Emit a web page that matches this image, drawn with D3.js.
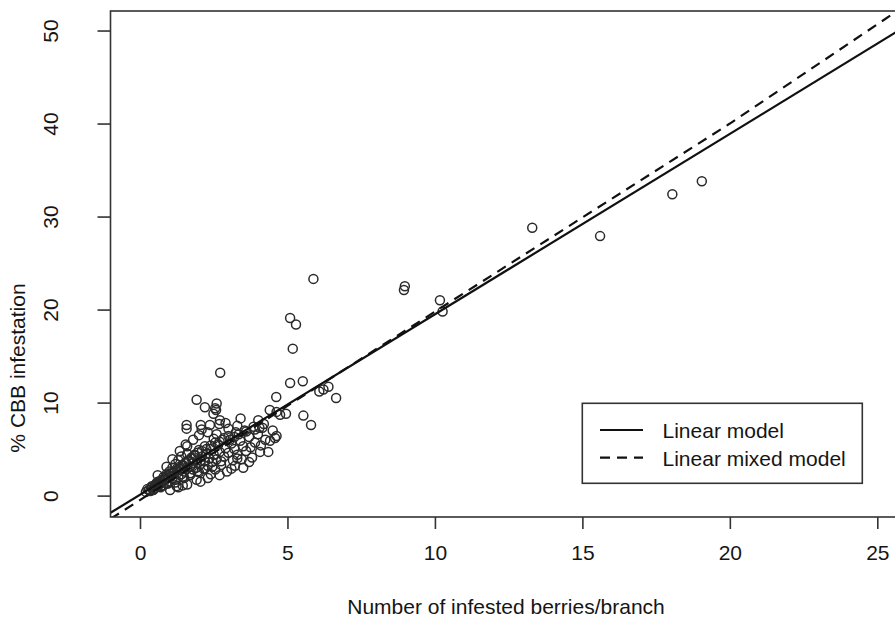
<!DOCTYPE html>
<html>
<head>
<meta charset="utf-8">
<script src="https://cdn.jsdelivr.net/npm/d3@7"></script>
<style>
  html, body { margin: 0; padding: 0; background: #fff; }
  svg { display: block; }
  text { font-family: "Liberation Sans", Arial, sans-serif; fill: #151515; }
</style>
</head>
<body>
<svg id="chart" width="895" height="622"></svg>
<script>
// ---- data ----
const xTicks = [0, 5, 10, 15, 20, 25];
const yTicks = [0, 10, 20, 30, 40, 50];
const xLabel = "Number of infested berries/branch";
const yLabel = "% CBB infestation";
const legendLabels = ["Linear model", "Linear mixed model"];

// observed points: infested berries per branch (x) and % infestation (y)
const pointsX = [
  13.3, 15.6, 18.05, 19.05, 8.95, 8.98, 10.17, 10.26, 5.88, 5.09, 5.29, 5.18, 5.09, 5.52, 6.08, 6.22, 6.39, 6.65, 4.62, 2.72,
  1.92, 2.2, 2.55, 2.6, 2.58, 2.49, 3.41, 4.01, 4.05, 1.58, 1.58, 2.06, 2.09, 2.37, 2.69, 2.71, 4.63, 4.75, 4.95, 5.54, 5.8,
  4.58, 4.41, 4.63, 4.07, 4.35, 3.22, 1.6, 1.92, 1.24, 1.02,
  0.2, 0.3, 0.35, 0.4, 0.45, 0.5, 0.5, 0.55, 0.6, 0.6, 0.65, 0.7, 0.7, 0.75, 0.8, 0.8, 0.85, 0.9, 0.9, 0.95,
  1.0, 1.0, 1.05, 1.1, 1.1, 1.15, 1.2, 1.2, 1.25, 1.3, 1.3, 1.35, 1.4, 1.4, 1.45, 1.5, 1.5, 1.55, 1.6, 1.6,
  1.65, 1.7, 1.7, 1.75, 1.8, 1.8, 1.85, 1.9, 1.95, 2.0, 2.0, 2.05, 2.1, 2.15, 2.2, 2.2, 2.25, 2.3, 2.35, 2.4,
  2.45, 2.5, 2.5, 2.55, 2.6, 2.65, 2.7, 2.75, 2.8, 2.85, 2.9, 2.95, 3.0, 3.0, 3.1, 3.15, 3.2, 3.25, 3.3, 3.4,
  3.45, 3.5, 3.55, 3.6, 3.7, 3.75, 3.8, 3.85, 3.9, 4.0, 4.1, 4.2, 4.25, 4.4, 4.5,
  1.3, 1.6, 2.3, 2.7, 3.5, 0.6, 0.9, 1.1, 1.35, 1.55, 1.8, 2.0, 2.3, 2.6, 3.0, 3.3, 2.9, 2.4, 3.1, 3.7, 2.05, 1.45,
  0.25, 0.4, 0.55, 0.65, 0.75, 0.85, 0.95, 1.05, 1.15, 1.25, 1.35, 1.45, 1.55, 1.65, 1.75, 1.85, 1.95, 2.1, 2.25, 2.4,
  2.55, 2.7, 2.85, 3.05, 3.2, 3.35, 3.6, 3.9, 4.15, 0.45, 0.7, 0.95, 1.2, 1.45, 1.7, 1.95, 2.2, 2.45, 2.75, 3.3
];
const pointsY = [
  28.8, 27.9, 32.4, 33.8, 22.1, 22.5, 21.0, 19.8, 23.3, 19.1, 18.4, 15.8, 12.1, 12.3, 11.2, 11.4, 11.7, 10.5, 10.6, 13.2,
  10.3, 9.5, 9.4, 9.9, 9.2, 8.8, 8.3, 8.1, 7.3, 7.6, 7.2, 7.6, 7.1, 7.6, 7.7, 8.1, 9.0, 8.7, 8.8, 8.6, 7.6,
  6.2, 5.9, 6.4, 4.7, 4.7, 3.2, 5.3, 1.7, 1.0, 0.6,
  0.4, 0.6, 0.5, 0.9, 0.7, 1.1, 0.8, 1.3, 1.0, 1.5, 1.2, 1.6, 0.9, 1.4, 2.0, 1.1, 1.7, 2.3, 1.3, 1.9,
  2.6, 1.5, 2.1, 3.0, 1.8, 2.4, 3.4, 1.4, 2.7, 2.0, 3.8, 2.9, 2.3, 4.2, 3.2, 2.6, 1.9, 3.5, 2.9, 4.5,
  3.7, 2.4, 3.1, 4.0, 2.8, 3.5, 4.4, 3.0, 3.8, 2.5, 4.9, 3.4, 4.2, 2.9, 3.7, 5.3, 4.5, 3.2, 4.0, 5.0,
  3.6, 4.4, 6.1, 2.8, 3.9, 5.5, 4.7, 3.3, 6.0, 4.2, 5.1, 2.6, 4.6, 6.4, 5.6, 3.8, 5.0, 6.8, 4.4, 5.9,
  3.9, 5.3, 7.0, 4.8, 6.3, 5.2, 4.1, 7.4, 5.7, 6.6, 5.4, 7.7, 6.0, 9.2, 7.0,
  0.9, 1.2, 1.9, 2.2, 3.0, 2.2, 3.1, 3.9, 4.8, 5.5, 6.0, 6.5, 6.8, 6.6, 7.2, 7.5, 7.8, 2.3, 2.9, 3.6, 1.5, 1.1,
  0.7, 1.0, 1.2, 1.4, 1.7, 1.9, 2.2, 2.4, 2.6, 2.9, 3.1, 3.3, 3.6, 3.8, 4.1, 4.3, 4.6, 4.8, 5.0, 5.4,
  5.7, 5.8, 6.2, 6.0, 6.3, 6.6, 6.9, 7.1, 7.3, 0.6, 1.0, 1.3, 1.7, 2.0, 2.2, 2.6, 2.9, 3.1, 3.7, 4.0
];

// fitted model lines
const linearX = [-1, 26];
const linearY = [-1.85, 50.53];
const mixedX = [-1, 7, 15, 20, 26];
const mixedY = [-2.5, 13.7, 29.9, 40.0, 52.8];

// ---- layout ----
const svg = d3.select("#chart");
const pLeft = 110.5, pTop = 11, pRight = 906.8, pBottom = 517;
const x = d3.scaleLinear().domain([-1, 26]).range([pLeft, pRight]);
const y = d3.scaleLinear().domain([-2.3, 52.1]).range([pBottom, pTop]);

svg.append("defs").append("clipPath").attr("id", "plotclip")
  .append("rect").attr("x", pLeft).attr("y", pTop).attr("width", pRight - pLeft).attr("height", pBottom - pTop);

// points
const pts = d3.range(pointsX.length).map(i => ({x: pointsX[i], y: pointsY[i]}));
svg.append("g").selectAll("circle").data(pts).join("circle")
  .attr("cx", d => x(d.x)).attr("cy", d => y(d.y)).attr("r", 4.5)
  .attr("fill", "none").attr("stroke", "#2a2a2a").attr("stroke-width", 1.5);

// lines
const lineGen = d3.line().x(d => x(d[0])).y(d => y(d[1]));
const gl = svg.append("g").attr("clip-path", "url(#plotclip)");
gl.append("path").attr("d", lineGen(d3.zip(linearX, linearY)))
  .attr("fill", "none").attr("stroke", "#111").attr("stroke-width", 2.2);
gl.append("path").attr("d", lineGen(d3.zip(mixedX, mixedY)))
  .attr("fill", "none").attr("stroke", "#111").attr("stroke-width", 2.2)
  .attr("stroke-dasharray", "10,7");

// frame
svg.append("rect").attr("x", pLeft).attr("y", pTop).attr("width", pRight - pLeft).attr("height", pBottom - pTop)
  .attr("fill", "none").attr("stroke", "#333").attr("stroke-width", 1.6);

// x axis
const gx = svg.append("g").attr("transform", `translate(0,${pBottom})`)
  .call(d3.axisBottom(x).tickValues(xTicks).tickSize(12).tickSizeOuter(0).tickPadding(16));
gx.select(".domain").remove();
gx.selectAll(".tick line").attr("stroke", "#333").attr("stroke-width", 1.6);
gx.selectAll(".tick text").style("font-size", "21px").attr("fill", "#151515");

// y axis
const gy = svg.append("g").attr("transform", `translate(${pLeft},0)`)
  .call(d3.axisLeft(y).tickValues(yTicks).tickSize(13).tickSizeOuter(0));
gy.select(".domain").remove();
gy.selectAll(".tick line").attr("stroke", "#333").attr("stroke-width", 1.6);
gy.selectAll(".tick text")
  .attr("x", null).attr("dy", null)
  .attr("transform", "translate(-53,0) rotate(-90)")
  .attr("text-anchor", "middle")
  .style("font-size", "21px").attr("fill", "#151515");

// axis titles
svg.append("text").attr("x", 506).attr("y", 614).attr("text-anchor", "middle")
  .style("font-size", "21px").text(xLabel);
svg.append("text").attr("transform", "translate(25,368) rotate(-90)").attr("text-anchor", "middle")
  .style("font-size", "21px").text(yLabel);

// legend
const lg = svg.append("g");
lg.append("rect").attr("x", 582.3).attr("y", 403.3).attr("width", 280).attr("height", 80)
  .attr("fill", "#fff").attr("stroke", "#333").attr("stroke-width", 1.6);
const legY = [430, 457.7];
legendLabels.forEach((lab, i) => {
  lg.append("line").attr("x1", 600).attr("x2", 643).attr("y1", legY[i]).attr("y2", legY[i])
    .attr("stroke", "#111").attr("stroke-width", 2.2)
    .attr("stroke-dasharray", i === 1 ? "10,7" : null);
  lg.append("text").attr("x", 662.5).attr("y", legY[i] + 8)
    .style("font-size", "21px").text(lab);
});
</script>
</body>
</html>
